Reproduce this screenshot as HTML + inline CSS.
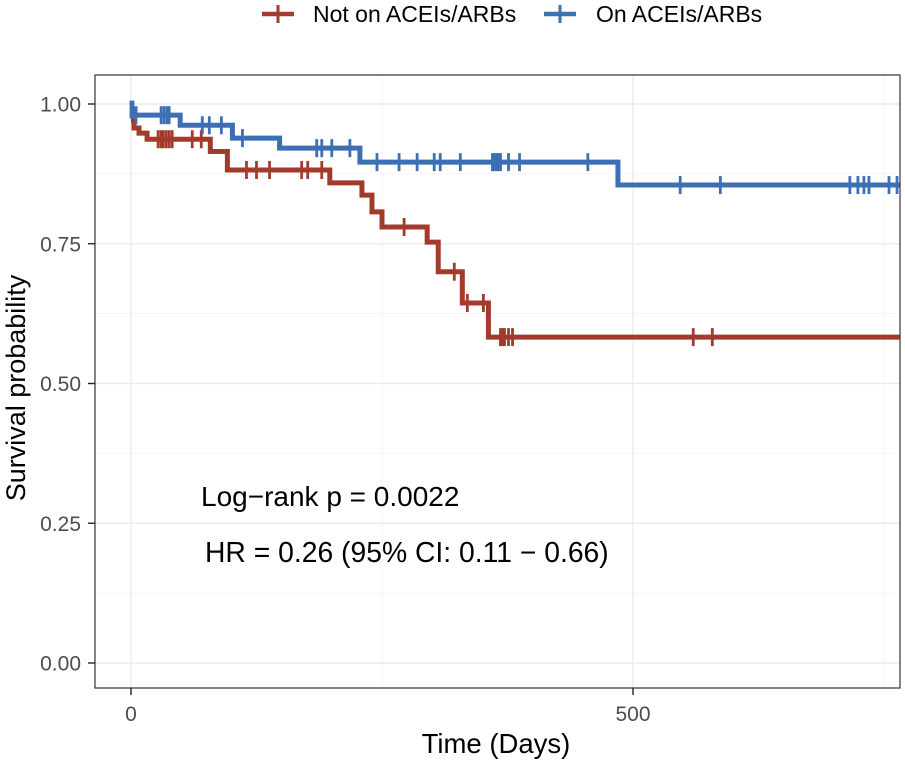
<!DOCTYPE html>
<html><head><meta charset="utf-8"><style>
body{margin:0;background:#fff;font-family:"Liberation Sans",Arial,sans-serif}
svg text{font-family:"Liberation Sans",Arial,sans-serif}
</style></head><body>
<svg id="chart" width="905" height="762" xmlns="http://www.w3.org/2000/svg">
<g id="grid"></g>
<g id="curves"></g>
<rect x="95" y="75" width="805" height="613" fill="none" stroke="#333" stroke-width="1.2"/>
<g id="axes"></g>
<text x="16" y="388" font-size="27" fill="#000" text-anchor="middle" transform="rotate(-90 16 388)" dominant-baseline="central">Survival probability</text>
<text x="496" y="753" font-size="27.5" fill="#000" text-anchor="middle">Time (Days)</text>
<text x="201" y="506" font-size="28" fill="#000">Log−rank p = 0.0022</text>
<text x="205" y="562" font-size="28.3" fill="#000">HR = 0.26 (95% CI: 0.11 − 0.66)</text>
<g>
<g>
<line x1="262" y1="14" x2="294" y2="14" stroke="#A23B2C" stroke-width="4.5"/>
<line x1="278" y1="5" x2="278" y2="23" stroke="#A23B2C" stroke-width="3"/>
<text x="313" y="22" font-size="23" fill="#000">Not on ACEIs/ARBs</text></g>
<g>
<line x1="544" y1="14" x2="576" y2="14" stroke="#3C6FB4" stroke-width="4.5"/>
<line x1="560" y1="5" x2="560" y2="23" stroke="#3C6FB4" stroke-width="3"/>
<text x="596" y="22" font-size="23" fill="#000">On ACEIs/ARBs</text></g>
</g>
</svg>
<script>
const xTicks=[0,500];
const xMinor=[250,750];
const yTicks=[0,0.25,0.5,0.75,1];
const yTickLabels=["0.00","0.25","0.50","0.75","1.00"];
const redTimes=[0,3,8,16,79,96,198,230,240,250,295,306,330,356];
const redSurv=[0.97,0.957,0.948,0.937,0.915,0.882,0.859,0.837,0.807,0.78,0.753,0.70,0.644,0.583];
const redCensor=[27,30,32,35,38,41,61,70,115,125,138,170,176,190,272,322,335,351,368,370,372,376,380,560,579];
const blueTimes=[0,4,49,101,148,228,485];
const blueSurv=[0.99,0.98,0.962,0.939,0.921,0.896,0.855];
const blueCensor=[0,2,5,30,33,36,38,71,78,90,111,185,190,200,218,245,267,285,302,308,328,360,362,364,366,368,376,387,455,547,587,716,724,730,735,755,763];
const tMax=766;
const NS="http://www.w3.org/2000/svg";
function X(t){return 131+t*1.004;}
function Y(s){return 663-s*559;}
function mk(tag,attrs,parent){const e=document.createElementNS(NS,tag);for(const k in attrs)e.setAttribute(k,attrs[k]);parent.appendChild(e);return e;}
const grid=document.getElementById('grid'),axes=document.getElementById('axes'),curves=document.getElementById('curves');
yTicks.forEach((v,i)=>{
 const l=mk('line',{x1:95,x2:900,y1:Y(v),y2:Y(v),stroke:'#ebebeb','stroke-width':1.4},grid);
 
 
 if(i<yTicks.length-1){const m=mk('line',{x1:95,x2:900,y1:Y(v+0.125),y2:Y(v+0.125),stroke:'#f2f2f2','stroke-width':0.8},grid);
 
 }
 const tk=mk('line',{x1:88,x2:95,y1:Y(v),y2:Y(v),stroke:'#222','stroke-width':1.4},axes);
 
 
 const t=mk('text',{x:81,y:Y(v)+7.5,'font-size':21,fill:'#4d4d4d','text-anchor':'end'},axes);
 t.textContent=yTickLabels[i];
 
 
});
xMinor.forEach(v=>{const m=mk('line',{x1:X(v),x2:X(v),y1:75,y2:688,stroke:'#f2f2f2','stroke-width':0.8},grid);
 
 });
xTicks.forEach(v=>{
 const l=mk('line',{x1:X(v),x2:X(v),y1:75,y2:688,stroke:'#ebebeb','stroke-width':1.4},grid);
 
 
 const tk=mk('line',{x1:X(v),x2:X(v),y1:688,y2:695,stroke:'#222','stroke-width':1.4},axes);
 
 
 const t=mk('text',{x:X(v),y:721,'font-size':21,fill:'#4d4d4d','text-anchor':'middle'},axes);
 t.textContent=String(v);
 
 
});
function survAt(times,surv,t){let s=surv[0];for(let i=0;i<times.length;i++)if(times[i]<=t)s=surv[i];return s;}
function drawCurve(times,surv,cens,color,name){
 let d='M'+X(times[0])+','+Y(surv[0]);
 for(let i=1;i<times.length;i++){d+=' H'+X(times[i])+' V'+Y(surv[i]);}
 d+=' H'+X(tMax);
 const p=mk('path',{d:d,fill:'none',stroke:color,'stroke-width':5},curves);
 
 
 cens.forEach(c=>{const y=Y(survAt(times,surv,c));
  const m=mk('line',{x1:X(c),x2:X(c),y1:y-9,y2:y+9,stroke:color,'stroke-width':2.8},curves);
  
  });
}
drawCurve(redTimes,redSurv,redCensor,'#A23B2C','not-on-acei');
drawCurve(blueTimes,blueSurv,blueCensor,'#3C6FB4','on-acei');
</script>
</body></html>
